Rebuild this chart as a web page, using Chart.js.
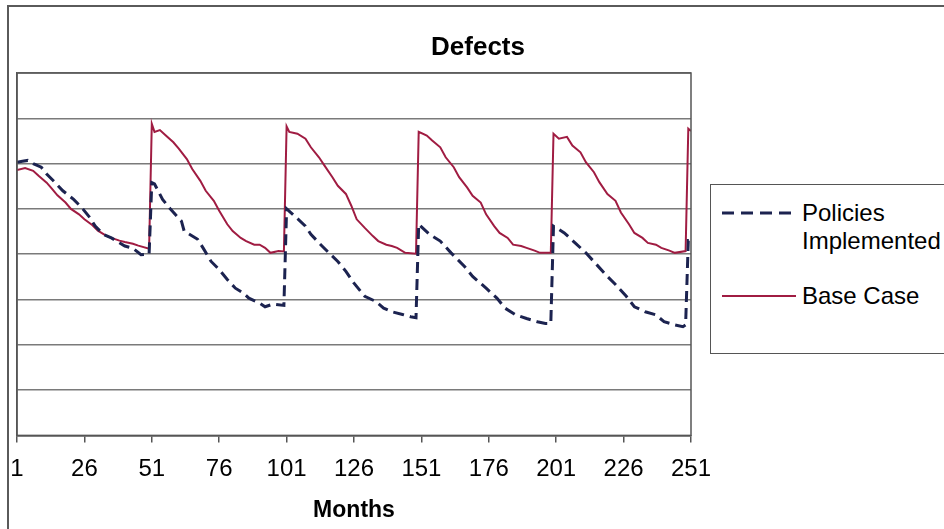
<!DOCTYPE html>
<html>
<head>
<meta charset="utf-8">
<script src="https://cdn.jsdelivr.net/npm/chart.js@4.4.1/dist/chart.umd.min.js"></script>
<style>
    body { margin: 0; background: #fff; font-family: "Liberation Sans", Arial, sans-serif; }
    #wrap { position: relative; width: 944px; height: 529px; overflow: hidden; }
    #frame { position: absolute; left: 7px; top: 5px; width: 1000px; height: 700px; border: 2px solid #5a5a5a; }
    #chart { position: absolute; left: 0; top: 0; }
    #title { position: absolute; left: 0; top: 31px; width: 956px; text-align: center; font-size: 26px; line-height: 30px; font-weight: bold; color: #000; }
    #legend { position: absolute; left: 710px; top: 184px; width: 300px; height: 168px; border: 1.5px solid #555; background: #fff; }
    .item { position: absolute; left: 0; font-size: 24px; line-height: 28px; color: #000; }
    .item svg { position: absolute; left: 11px; }
    .item span { position: absolute; left: 91px; white-space: nowrap; }
</style>
</head>
<body>
<div id="wrap">
    <div id="frame"></div>
    <canvas id="chart" width="944" height="529"></canvas>
    <div id="title">Defects</div>
    <div id="legend">
        <div class="item" style="top: 14px;">
            <svg width="76" height="28"><line x1="0" y1="14" x2="74" y2="14" stroke="#1c2350" stroke-width="3" stroke-dasharray="12,7"/></svg>
            <span>Policies<br>Implemented</span>
        </div>
        <div class="item" style="top: 97px;">
            <svg width="76" height="28"><line x1="0" y1="14" x2="74" y2="14" stroke="#a01c42" stroke-width="2"/></svg>
            <span>Base Case</span>
        </div>
    </div>
</div>
<script>
// Eksen etiketleri (ay)
const monthTicks = [1, 26, 51, 76, 101, 126, 151, 176, 201, 226, 251];

// Base Case (kırmızı çizgi)
const baseMonths = [1, 4, 7, 9, 12, 14, 16, 19, 21, 24, 26, 29, 31, 34, 36, 39, 41, 44, 46, 50,
    51, 52, 54, 56, 59, 61, 64, 66, 69, 71, 74, 76, 79, 81, 84, 86, 89, 91, 93, 95, 98, 100,
    101, 102, 105, 108, 110, 113, 115, 118, 120, 123, 125, 127, 130, 133, 135, 138, 140, 142, 145, 149,
    150, 153, 155, 158, 160, 163, 165, 168, 170, 173, 175, 178, 180, 183, 185, 188, 190, 193, 195, 199,
    200, 202, 205, 207, 210, 212, 215, 217, 220, 223, 225, 228, 230, 233, 235, 238, 240, 243, 245, 249,
    250, 251];
const baseValues = [5.86, 5.90, 5.84, 5.73, 5.58, 5.44, 5.30, 5.14, 5.00, 4.88, 4.77, 4.64, 4.52, 4.41, 4.36, 4.30, 4.27, 4.23, 4.19, 4.12,
    6.88, 6.70, 6.74, 6.63, 6.47, 6.33, 6.10, 5.88, 5.62, 5.40, 5.18, 4.96, 4.66, 4.51, 4.36, 4.29, 4.21, 4.21, 4.14, 4.03, 4.07, 4.06,
    6.82, 6.70, 6.66, 6.55, 6.36, 6.14, 5.96, 5.70, 5.51, 5.33, 5.07, 4.77, 4.58, 4.40, 4.29, 4.21, 4.18, 4.14, 4.03, 4.01,
    6.70, 6.62, 6.51, 6.36, 6.14, 5.92, 5.70, 5.47, 5.29, 5.14, 4.88, 4.62, 4.47, 4.36, 4.21, 4.18, 4.14, 4.08, 4.03, 4.03,
    6.66, 6.55, 6.59, 6.40, 6.25, 6.03, 5.81, 5.59, 5.33, 5.18, 4.92, 4.66, 4.47, 4.36, 4.25, 4.21, 4.14, 4.08, 4.03, 4.07,
    6.77, 6.72];

// Policies Implemented (kesikli çizgi)
const policyMonths = [1, 3, 5, 7, 10, 12, 15, 18, 22, 25, 28, 30, 33, 36, 41, 44, 47, 50,
    51, 52, 55, 58, 62, 63, 68, 70, 73, 76, 79, 82, 85, 87, 91, 93, 96, 100,
    101, 104, 108, 110, 113, 116, 120, 123, 126, 130, 134, 137, 140, 144, 147, 149,
    150, 154, 158, 162, 167, 170, 175, 179, 182, 186, 190, 194, 197, 199,
    200, 204, 208, 212, 216, 220, 223, 227, 230, 234, 238, 241, 245, 248, 249,
    250, 251];
const policyValues = [6.03, 6.05, 6.07, 6.00, 5.92, 5.77, 5.59, 5.40, 5.21, 5.03, 4.81, 4.62, 4.44, 4.36, 4.18, 4.13, 3.99, 4.00,
    5.58, 5.55, 5.21, 4.99, 4.73, 4.51, 4.33, 4.14, 3.84, 3.66, 3.44, 3.25, 3.14, 3.03, 2.92, 2.84, 2.90, 2.87,
    5.00, 4.84, 4.62, 4.44, 4.25, 4.07, 3.84, 3.62, 3.36, 3.07, 2.96, 2.81, 2.73, 2.67, 2.62, 2.60,
    4.66, 4.44, 4.29, 4.03, 3.73, 3.51, 3.25, 3.03, 2.81, 2.66, 2.58, 2.51, 2.47, 2.47,
    4.62, 4.47, 4.25, 4.03, 3.77, 3.51, 3.33, 3.07, 2.84, 2.73, 2.66, 2.51, 2.44, 2.40, 2.44,
    4.30, 4.30];

const fontFamily = '"Liberation Sans", Arial, sans-serif';

// Çizim alanının çerçevesi
const plotFrame = {
    id: 'plotFrame',
    afterDraw(chart) {
        const a = chart.chartArea;
        const ctx = chart.ctx;
        ctx.save();
        ctx.strokeStyle = '#555';
        ctx.lineWidth = 1.5;
        ctx.strokeRect(a.left, a.top, a.right - a.left, a.bottom - a.top);
        ctx.restore();
    }
};

const ctx = document.getElementById('chart').getContext('2d');
new Chart(ctx, {
    type: 'line',
    data: {
        datasets: [{
            label: 'Policies Implemented',
            data: policyMonths.map((m, i) => ({ x: m, y: policyValues[i] })),
            borderColor: '#1c2350',
            borderWidth: 3,
            borderDash: [11, 6],
            pointRadius: 0,
            tension: 0
        }, {
            label: 'Base Case',
            data: baseMonths.map((m, i) => ({ x: m, y: baseValues[i] })),
            borderColor: '#a01c42',
            borderWidth: 2,
            pointRadius: 0,
            tension: 0
        }]
    },
    options: {
        responsive: false,
        animation: false,
        layout: { padding: { left: 17, right: 253, top: 73, bottom: 0 } },
        plugins: {
            legend: { display: false },
            tooltip: { enabled: false },
            title: { display: false }
        },
        scales: {
            x: {
                type: 'linear',
                min: 1,
                max: 251,
                afterBuildTicks: scale => { scale.ticks = monthTicks.map(v => ({ value: v })); },
                afterFit: scale => { scale.paddingLeft = 0; scale.paddingRight = 0; },
                grid: { drawOnChartArea: false, drawTicks: true, tickLength: 7, color: '#555', lineWidth: 1.5 },
                border: { display: true, color: '#555', width: 1.5 },
                ticks: {
                    color: '#000',
                    font: { family: fontFamily, size: 24 },
                    padding: 12.6,
                    maxRotation: 0,
                    autoSkip: false
                },
                title: {
                    display: true,
                    text: 'Months',
                    color: '#000',
                    font: { family: fontFamily, size: 23, weight: 'bold' },
                    padding: { top: 0, bottom: 5 }
                }
            },
            y: {
                min: 0,
                max: 8,
                afterFit: scale => { scale.width = 0; },
                ticks: { display: false, stepSize: 1 },
                grid: { color: '#7a7a7a', lineWidth: 1.5, drawTicks: false },
                border: { display: true, color: '#555', width: 1.5 }
            }
        }
    },
    plugins: [plotFrame]
});
</script>
</body>
</html>
